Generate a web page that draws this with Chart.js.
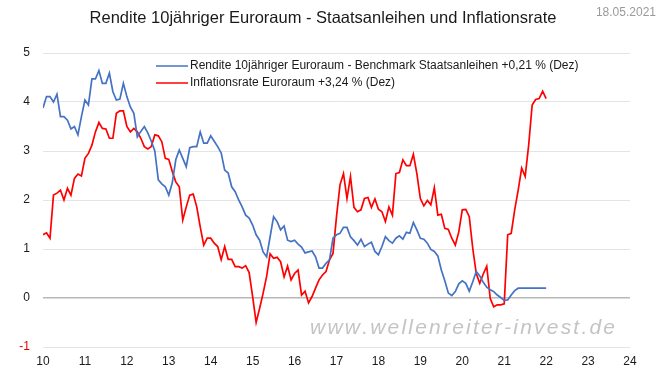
<!DOCTYPE html>
<html><head><meta charset="utf-8">
<style>html,body{margin:0;padding:0;background:#fff;}canvas{display:block;}</style>
<script src="https://cdn.jsdelivr.net/npm/chart.js@4/dist/chart.umd.min.js"></script>
</head><body>
<canvas id="c" width="660" height="379" style="width:660px;height:379px"></canvas>
<script>
const titleText = 'Rendite 10jähriger Euroraum - Staatsanleihen und Inflationsrate';
const dateText = '18.05.2021';
const watermarkText = 'www.wellenreiter-invest.de';
const startYear = 10; // first month: Jan 2010, monthly data
const xTickLabels = ['10','11','12','13','14','15','16','17','18','19','20','21','22','23','24'];
const yTickLabels = ['-1','0','1','2','3','4','5'];
const yieldLabel = 'Rendite 10jähriger Euroraum - Benchmark Staatsanleihen +0,21 % (Dez)';
const inflLabel = 'Inflationsrate Euroraum +3,24 % (Dez)';

const yieldValues = [
 3.88,4.11,4.11,4.00,4.16,3.70,3.70,3.63,3.45,3.50,3.33,3.70,
 4.04,3.94,4.47,4.47,4.64,4.38,4.38,4.59,4.21,4.04,4.06,4.38,
 4.11,3.90,3.77,3.29,3.40,3.50,3.37,3.20,3.00,2.41,2.33,2.27,
 2.10,2.35,2.82,3.02,2.85,2.68,3.07,3.09,3.09,3.39,3.16,3.16,
 3.31,3.20,3.09,2.96,2.61,2.55,2.27,2.17,2.00,1.86,1.69,1.63,
 1.49,1.29,1.18,0.94,0.84,1.25,1.66,1.56,1.39,1.47,1.18,1.15,
 1.18,1.10,1.04,0.92,0.94,0.96,0.84,0.61,0.61,0.71,0.78,1.22,
 1.29,1.32,1.44,1.44,1.25,1.17,1.08,1.20,1.05,1.10,1.14,0.95,
 0.88,1.05,1.25,1.17,1.12,1.22,1.27,1.20,1.34,1.32,1.54,1.39,
 1.22,1.20,1.12,0.99,0.95,0.86,0.57,0.35,0.10,0.05,0.13,0.29,
 0.35,0.30,0.14,0.33,0.54,0.45,0.32,0.22,0.17,0.13,0.06,0.01,
 -0.05,-0.04,0.06,0.15,0.20,0.20,0.20,0.20,0.20,0.20,0.20,0.20,
 0.20
];
const inflationValues = [
 1.29,1.33,1.22,2.10,2.14,2.20,2.00,2.24,2.10,2.44,2.53,2.49,
 2.85,2.95,3.12,3.39,3.58,3.46,3.45,3.26,3.26,3.77,3.82,3.82,
 3.50,3.39,3.46,3.39,3.26,3.09,3.04,3.09,3.33,3.31,3.19,2.85,
 2.83,2.58,2.37,2.27,1.59,1.86,2.10,2.12,1.86,1.45,1.08,1.22,
 1.22,1.12,1.05,0.78,1.05,0.79,0.79,0.64,0.64,0.61,0.66,0.52,
 0.03,-0.50,-0.21,0.10,0.44,0.90,0.81,0.83,0.74,0.43,0.65,0.37,
 0.50,0.57,0.06,0.14,-0.10,0.03,0.20,0.37,0.47,0.54,0.78,0.91,
 1.66,2.31,2.54,2.03,2.48,1.85,1.76,1.80,2.03,2.05,1.85,2.02,
 1.81,1.76,1.56,1.86,1.69,2.54,2.56,2.82,2.70,2.70,2.93,2.54,
 2.03,1.88,1.99,1.90,2.25,1.69,1.71,1.42,1.40,1.22,1.08,1.35,
 1.80,1.81,1.66,1.01,0.50,0.30,0.49,0.65,-0.01,-0.18,-0.14,-0.14,
 -0.12,1.29,1.32,1.80,2.20,2.65,2.48,3.12,3.94,4.05,4.07,4.22,
 4.07
];

const toPoints = arr => arr.map((v,i)=>({x: startYear + i/12, y: v}));
const FONT = '"Liberation Sans", Arial, sans-serif';
const BLUE = '#4472c4', RED = '#ff0000';

const textPlugin = {
  id: 'texts',
  beforeDatasetsDraw(chart){
    const ctx = chart.ctx;
    ctx.save();
    ctx.font = 'italic 21px ' + FONT;
    ctx.fillStyle = '#c4c4c4';
    ctx.textBaseline = 'middle';
    const chars = watermarkText.split('');
    const natural = chars.reduce((s,c)=>s+ctx.measureText(c).width,0);
    const target = 305;
    const sp = (target - natural)/(chars.length-1);
    let x = 310;
    for (const c of chars){ ctx.fillText(c, x, 328); x += ctx.measureText(c).width + sp; }
    ctx.restore();
  },
  afterDraw(chart){
    const ctx = chart.ctx;
    ctx.save();
    ctx.fillStyle = '#1a1a1a';
    ctx.font = '16.5px ' + FONT;
    ctx.textAlign = 'center';
    ctx.textBaseline = 'middle';
    ctx.fillText(titleText, 323, 18);
    ctx.font = '12px ' + FONT;
    ctx.fillStyle = '#9a9a9a';
    ctx.textAlign = 'right';
    ctx.fillText(dateText, 656, 13);
    // legend
    const items = [[yieldLabel, BLUE, 66],[inflLabel, RED, 83]];
    ctx.font = '12px ' + FONT;
    ctx.textAlign = 'left';
    for (const [t,c,y] of items){
      ctx.strokeStyle = c; ctx.lineWidth = 1.5;
      ctx.beginPath(); ctx.moveTo(156,y); ctx.lineTo(188,y); ctx.stroke();
      ctx.fillStyle = '#1a1a1a';
      ctx.fillText(t, 190, y);
    }
    ctx.restore();
  }
};

new Chart(document.getElementById('c'), {
  type: 'line',
  data: {
    datasets: [
      {label: yieldLabel, data: toPoints(yieldValues), borderColor: BLUE, borderWidth: 1.7, pointRadius: 0, tension: 0, fill: false},
      {label: inflLabel, data: toPoints(inflationValues), borderColor: RED, borderWidth: 1.7, pointRadius: 0, tension: 0, fill: false}
    ]
  },
  options: {
    responsive: false,
    animation: false,
    devicePixelRatio: 1,
    layout: {padding: {left: 0, right: 30, top: 53, bottom: 0}},
    plugins: {legend: {display: false}, title: {display: false}, tooltip: {enabled: false}},
    scales: {
      x: {
        type: 'linear', min: 10, max: 24,
        afterFit: s => { s.height = 32; },
        grid: {display: false, drawTicks: false},
        border: {display: false},
        ticks: {stepSize: 1, padding: 7, color: '#1a1a1a', font: {size: 12, family: FONT},
          callback: (v) => xTickLabels[Math.round(v) - 10] ?? ''}
      },
      y: {
        min: -1, max: 5,
        afterFit: s => { s.width = 43; },
        grid: {drawTicks: false,
          color: ctx => (ctx.tick && ctx.tick.value === 0) ? '#b8b8b8' : '#e4e4e4',
          lineWidth: ctx => (ctx.tick && ctx.tick.value === 0) ? 1.5 : 1},
        border: {display: false},
        ticks: {stepSize: 1, padding: 13, color: ctx => ctx.tick.value < 0 ? '#e00000' : '#1a1a1a',
          font: {size: 12, family: FONT},
          callback: (v) => yTickLabels[Math.round(v) + 1] ?? ''}
      }
    }
  },
  plugins: [textPlugin]
});
</script>
</body></html>
